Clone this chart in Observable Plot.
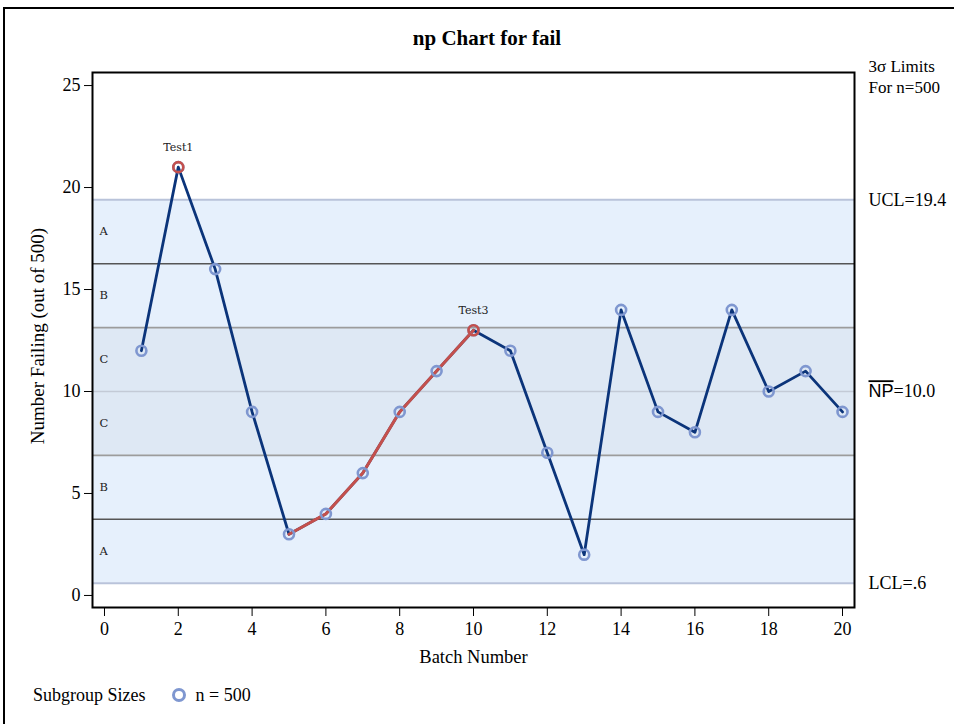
<!DOCTYPE html>
<html><head><meta charset="utf-8">
<script src="https://cdn.jsdelivr.net/npm/d3@7"></script>
<script src="https://cdn.jsdelivr.net/npm/@observablehq/plot@0.6"></script>
<style>
body{margin:0;background:#fff;font-family:"Liberation Serif","Times New Roman",serif;color:#000;}
#border{position:absolute;left:3px;top:7px;width:1000px;height:800px;border-left:2px solid #000;border-top:2px solid #000;pointer-events:none;}
#title{height:24px;padding-top:26px;line-height:24px;font-size:21px;font-weight:bold;text-align:center;padding-left:20px;box-sizing:content-box;}
#chart svg{display:block;}
#legend{height:30px;display:flex;align-items:center;padding-left:33px;font-size:18px;}
</style></head>
<body>
<div id="border"></div>
<div id="title">np Chart for fail</div>
<div id="chart"></div>
<div id="legend"><span>Subgroup Sizes</span><svg width="16" height="16" style="margin-left:25px"><circle cx="8" cy="8" r="5.5" fill="none" stroke="#7f97d0" stroke-width="3"/></svg><span style="margin-left:9px">n = 500</span></div>
<script>
// ---- data ----
const batches = [1,2,3,4,5,6,7,8,9,10,11,12,13,14,15,16,17,18,19,20];
const failing = [12,21,16,9,3,4,6,9,11,13,12,7,2,14,9,8,14,10,11,9];
const centerNP = 10.0;
const ucl = 19.4;
const lcl = 0.6;
const testBatches = [2, 10];
const testLabels = ["Test1", "Test3"];
const runStart = 5, runEnd = 10; // flagged run (Test3)
const yTicks = [0,5,10,15,20,25];
const xTicks = [0,2,4,6,8,10,12,14,16,18,20];

const pts = batches.map((b,i)=>({batch:b, value:failing[i]}));
const run = pts.filter(d=>d.batch>=runStart && d.batch<=runEnd);
const tests = testBatches.map((b,i)=>({batch:b, value:failing[b-1], label:testLabels[i]}));

const s = (ucl-centerNP)/3;
const bounds = [lcl, centerNP-2*s, centerNP-s, centerNP, centerNP+s, centerNP+2*s, ucl];
const zoneNames = ["A","B","C","C","B","A"];
const zones = zoneNames.map((z,i)=>({y1:bounds[i], y2:bounds[i+1], name:z,
  fill: z==="C" ? "#dee8f4" : "#e6f0fc"}));
const lines = [
  {y:lcl, c:"#b9c3da", w:2},
  {y:bounds[1], c:"#555555", w:1.6},
  {y:bounds[2], c:"#9c9c9c", w:1.6},
  {y:centerNP, c:"#c3cad6", w:1.6},
  {y:bounds[4], c:"#9c9c9c", w:1.6},
  {y:bounds[5], c:"#555555", w:1.6},
  {y:ucl, c:"#b9c3da", w:2}
];
const rightLabels = [
  {y:ucl, t:"UCL=19.4"},
  {y:centerNP, t:"NP=10.0"},
  {y:lcl, t:"LCL=.6"}
];

const navy = "#0b347a", red = "#c4504c", marker = "#7f97d0";
const serif = "Liberation Serif";

const chart = Plot.plot({
  width: 954, height: 630,
  marginLeft: 92, marginRight: 100, marginTop: 22, marginBottom: 73,
  style: {fontFamily: serif, fontSize: "18px", background: "transparent", overflow: "visible"},
  x: {domain: [-0.325, 20.325], ticks: xTicks},
  y: {domain: [-0.59, 25.64], ticks: yTicks},
  marks: [
    Plot.rect(zones, {y1:"y1", y2:"y2", fill:"fill"}),
    Plot.ruleY(lines, {y:"y", stroke:"c", strokeWidth:"w"}),
    Plot.text(zones, {y:d=>(d.y1+d.y2)/2, text:"name", frameAnchor:"left", dx:7, textAnchor:"start",
      fontFamily:"DejaVu Serif", fontSize:11.5, fill:"#222"}),
    Plot.line(pts, {x:"batch", y:"value", stroke:navy, strokeWidth:2.8}),
    Plot.line(run, {x:"batch", y:"value", stroke:red, strokeWidth:3}),
    Plot.dot(pts, {x:"batch", y:"value", r:5, stroke:marker, strokeWidth:2.6, fill:"none"}),
    Plot.dot(tests, {x:"batch", y:"value", r:5, stroke:red, strokeWidth:2.6, fill:"none"}),
    Plot.text(tests, {x:"batch", y:"value", text:"label", dy:-20, fontFamily:"DejaVu Serif", fontSize:11, fill:"#222"}),
    Plot.text(rightLabels, {y:"y", text:"t", frameAnchor:"right", dx:14, textAnchor:"start", fontSize:18}),
    Plot.text(["3σ Limits"], {frameAnchor:"top-right", dx:14, dy:-6, textAnchor:"start", lineAnchor:"middle", fontSize:17}),
    Plot.text(["For n=500"], {frameAnchor:"top-right", dx:14, dy:15, textAnchor:"start", lineAnchor:"middle", fontSize:17}),
    Plot.frame({stroke:"#000", strokeWidth:2}),
    Plot.axisY({ticks:yTicks, tickSize:8, tickPadding:4, label:null, fontSize:18, stroke:"#000"}),
    Plot.axisX({ticks:xTicks, tickSize:9, tickPadding:6, label:null, fontSize:18, stroke:"#000"}),
    Plot.text(["Batch Number"], {frameAnchor:"bottom", dy:55, fontSize:18.5}),
    Plot.text(["Number Failing (out of 500)"], {frameAnchor:"left", dx:-55, dy:-4, rotate:-90, textAnchor:"middle", lineAnchor:"middle", fontSize:19})
  ]
});
document.getElementById("chart").appendChild(chart);

// overline on NP
d3.select(chart).selectAll("text").each(function(){
  const el = d3.select(this);
  if (el.text() === "NP=10.0") {
    el.text(null);
    el.append("tspan").attr("font-family","Liberation Sans").attr("text-decoration","overline").text("NP");
    el.append("tspan").text("=10.0");
  }
});
</script>
</body></html>
